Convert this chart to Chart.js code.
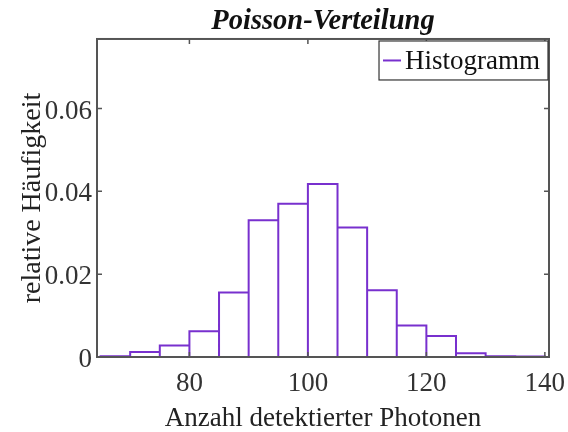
<!DOCTYPE html>
<html>
<head>
<meta charset="utf-8">
<script src="https://cdn.jsdelivr.net/npm/chart.js@4"></script>
<style>
  html, body { margin: 0; padding: 0; background: #fff; }
  #wrap { width: 568px; height: 432px; }
</style>
</head>
<body>
<div id="wrap"><canvas id="myChart" width="568" height="432"></canvas></div>
<script>
// bin centres (5 photons wide) and relative frequencies
let binCenters = [67.5, 72.5, 77.5, 82.5, 87.5, 92.5, 97.5, 102.5, 107.5, 112.5, 117.5, 122.5, 127.5, 132.5, 137.5];
let frequencies = [0.0002, 0.0012, 0.0028, 0.0062, 0.0156, 0.0330, 0.0370, 0.0418, 0.0313, 0.0161, 0.0076, 0.0051, 0.0009, 0.0002, 0.0001];
let binWidth = 5;
let xTicks = [80, 100, 120, 140];
let yTicks = [0, 0.02, 0.04, 0.06];
let yTickLabels = ['0', '0.02', '0.04', '0.06'];

const purple = 'rgb(120, 48, 206)';
const serif = "'Liberation Serif', 'DejaVu Serif', serif";

// outline of the histogram: every bin goes up its left edge, across, and down its right edge
function histogramOutline() {
    let pts = [];
    for (let i = 0; i < binCenters.length; i++) {
        let l = binCenters[i] - binWidth / 2;
        let r = binCenters[i] + binWidth / 2;
        pts.push({ x: l, y: 0 }, { x: l, y: frequencies[i] }, { x: r, y: frequencies[i] }, { x: r, y: 0 });
    }
    return pts;
}

// box around the axes, inward ticks and the legend (MATLAB look)
const matlabBox = {
    id: 'matlabBox',
    afterDatasetsDraw(chart) {
        const ctx = chart.ctx;
        const a = chart.chartArea;
        const x = chart.scales.x;
        const y = chart.scales.y;
        ctx.save();
        ctx.strokeStyle = '#555';
        ctx.lineWidth = 1.5;
        for (let v of xTicks) {
            let px = x.getPixelForValue(v);
            ctx.beginPath();
            ctx.moveTo(px, a.bottom); ctx.lineTo(px, a.bottom - 5);
            ctx.moveTo(px, a.top); ctx.lineTo(px, a.top + 5);
            ctx.stroke();
        }
        for (let v of yTicks) {
            let py = y.getPixelForValue(v);
            ctx.beginPath();
            ctx.moveTo(a.left, py); ctx.lineTo(a.left + 5, py);
            ctx.moveTo(a.right, py); ctx.lineTo(a.right - 5, py);
            ctx.stroke();
        }
        ctx.lineWidth = 2;
        ctx.strokeRect(a.left, a.top, a.right - a.left, a.bottom - a.top);

        // legend
        let label = chart.data.datasets[0].label;
        ctx.font = '27px ' + serif;
        let tw = ctx.measureText(label).width;
        let bw = tw + 34;
        let bh = 39;
        let bx = a.right - 1 - bw;
        let by = a.top + 2;
        ctx.fillStyle = '#fff';
        ctx.fillRect(bx, by, bw, bh);
        ctx.lineWidth = 1.2;
        ctx.strokeStyle = '#333';
        ctx.strokeRect(bx, by, bw, bh);
        ctx.strokeStyle = purple;
        ctx.lineWidth = 2;
        ctx.beginPath();
        ctx.moveTo(bx + 4, by + bh / 2); ctx.lineTo(bx + 22, by + bh / 2);
        ctx.stroke();
        ctx.fillStyle = '#111';
        ctx.textBaseline = 'middle';
        ctx.fillText(label, bx + 26, by + bh / 2 + 1);
        ctx.restore();
    }
};

const ctx = document.getElementById('myChart');
new Chart(ctx, {
    type: 'line',
    data: {
        datasets: [{
            label: 'Histogramm',
            data: histogramOutline(),
            borderColor: purple,
            borderWidth: 2,
            pointRadius: 0,
            fill: false,
            tension: 0
        }]
    },
    options: {
        responsive: false,
        animation: false,
        layout: { padding: { left: 0, right: 19, top: 0, bottom: 0 } },
        plugins: {
            legend: { display: false },
            tooltip: { enabled: false },
            title: {
                display: true,
                fullSize: false,
                text: 'Poisson-Verteilung',
                color: '#111',
                font: { family: serif, size: 28.5, style: 'italic', weight: 'bold', lineHeight: 1.15 },
                padding: { top: 5.5, bottom: 0.7 }
            }
        },
        scales: {
            x: {
                type: 'linear',
                min: 64.4,
                max: 140.7,
                afterBuildTicks: (scale) => { scale.ticks = xTicks.map(v => ({ value: v })); },
                afterFit: (scale) => { scale.height = 75; scale.paddingLeft = 0; scale.paddingRight = 0; },
                grid: { display: false, drawTicks: false },
                border: { display: false },
                ticks: { color: '#333', font: { family: serif, size: 27 }, padding: 10.5, maxRotation: 0 },
                title: {
                    display: true,
                    text: 'Anzahl detektierter Photonen',
                    color: '#222',
                    font: { family: serif, size: 27, lineHeight: 1 },
                    padding: { top: 0, bottom: 0 }
                }
            },
            y: {
                min: 0,
                max: 0.0768,
                afterBuildTicks: (scale) => { scale.ticks = yTicks.map(v => ({ value: v })); },
                afterFit: (scale) => { scale.width = 97; },
                grid: { display: false, drawTicks: false },
                border: { display: false },
                ticks: {
                    color: '#333',
                    font: { family: serif, size: 27 },
                    padding: 5,
                    labelOffset: 3,
                    callback: (v) => yTickLabels[yTicks.indexOf(v)]
                },
                title: {
                    display: true,
                    text: 'relative Häufigkeit',
                    color: '#222',
                    font: { family: serif, size: 28 },
                    padding: { top: 15.7, bottom: 0 }
                }
            }
        }
    },
    plugins: [matlabBox]
});
</script>
</body>
</html>
